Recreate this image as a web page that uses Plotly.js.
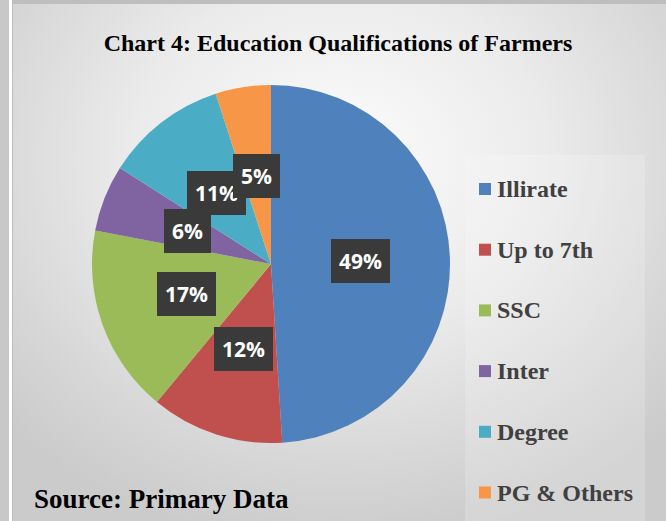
<!DOCTYPE html>
<html>
<head>
<meta charset="utf-8">
<script src="https://cdn.plot.ly/plotly-3.0.1.min.js"></script>
<style>
  html, body { margin: 0; padding: 0; }
  #wrap { position: relative; width: 666px; height: 521px; background: #c8c8c8; overflow: hidden; }
  #wline { position: absolute; left: 9px; top: 0; width: 3px; height: 521px; background: #ffffff; }
  #bg { position: absolute; left: 12px; top: 4px; right: 0; bottom: 0;
        border-left: 1px solid #bdbdbd;
        background: radial-gradient(ellipse 70% 75% at 50% 30%, #fcfcfc 0%, #ebebeb 45%, #d6d6d6 80%, #cbcbcb 100%); }
  #topline { position: absolute; left: 12px; top: 0; right: 0; height: 4px; background: #bebebe; }
  #chart { position: absolute; left: 0; top: 0; width: 666px; height: 521px; }
</style>
</head>
<body>
<div id="wrap">
  <div id="wline"></div>
  <div id="topline"></div>
  <div id="bg"></div>
  <div id="chart"></div>
</div>
<script>
// ---- data ----
const categories = ["Illirate", "Up to 7th", "SSC", "Inter", "Degree", "PG & Others"];
const values = [49, 12, 17, 6, 11, 5];
const colors = ["#4F81BD", "#C0504D", "#9BBB59", "#8064A2", "#4BACC6", "#F79646"];
const titleText = "Chart 4: Education Qualifications of Farmers";
const sourceText = "Source: Primary Data";

// ---- layout geometry (pixels) ----
const W = 666, H = 521;
const cx = 271, cy = 264, R = 179;
const px = x => x / W;
const py = y => 1 - y / H;

const total = values.reduce((a, b) => a + b, 0);

const pie = {
  type: "pie",
  labels: categories,
  values: values,
  sort: false,
  direction: "clockwise",
  rotation: 0,
  marker: { colors: colors, line: { width: 0 } },
  textinfo: "none",
  hoverinfo: "label+percent",
  showlegend: false,
  domain: { x: [px(cx - R), px(cx + R)], y: [py(cy + R), py(cy - R)] }
};

const annotations = [];
const shapes = [];

// data labels (dark boxes) placed at the middle of each slice
let cum = 0;
values.forEach((v, i) => {
  const mid = (cum + v / 2) / total * 2 * Math.PI;
  cum += v;
  const lx = cx + Math.sin(mid) * R * 0.5;
  const ly = cy - Math.cos(mid) * R * 0.5;
  annotations.push({
    xref: "paper", yref: "paper", x: px(lx), y: py(ly),
    xanchor: "center", yanchor: "middle", showarrow: false,
    text: "<b>" + Math.round(v / total * 100) + "%</b>",
    font: { family: "Open Sans, Noto Sans, sans-serif", size: 21, color: "#ffffff" },
    bgcolor: "#3a3a3a", borderpad: 8, borderwidth: 0
  });
});

// legend (custom, spaced as in the reference)
const legX = 479, legY0 = 189, legGap = 60.7, sq = 12;
categories.forEach((c, i) => {
  const yy = legY0 + i * legGap;
  shapes.push({
    type: "rect", xref: "paper", yref: "paper",
    x0: px(legX), x1: px(legX + sq), y0: py(yy + sq / 2), y1: py(yy - sq / 2),
    fillcolor: colors[i], line: { width: 0 }
  });
  annotations.push({
    xref: "paper", yref: "paper", x: px(legX + sq + 4), y: py(yy),
    xanchor: "left", yanchor: "middle", showarrow: false,
    text: "<b>" + c + "</b>",
    font: { family: "Liberation Serif, Times New Roman, serif", size: 24, color: "#404040" }
  });
});

// legend area panel
shapes.unshift({
  type: "rect", xref: "paper", yref: "paper", layer: "below",
  x0: px(465), x1: px(645), y0: 0, y1: py(155),
  fillcolor: "rgba(255,255,255,0.18)", line: { width: 0 }
});

// source note
annotations.push({
  xref: "paper", yref: "paper", x: px(32), y: py(499),
  xanchor: "left", yanchor: "middle", showarrow: false,
  text: "<b>" + sourceText + "</b>",
  font: { family: "Liberation Serif, Times New Roman, serif", size: 27, color: "#000000" }
});

const layout = {
  width: W, height: H,
  margin: { l: 0, r: 0, t: 0, b: 0 },
  paper_bgcolor: "rgba(0,0,0,0)",
  plot_bgcolor: "rgba(0,0,0,0)",
  title: {
    text: "<b>" + titleText + "</b>",
    x: px(338), xanchor: "center", y: py(43), yanchor: "middle",
    font: { family: "Liberation Serif, Times New Roman, serif", size: 24, color: "#000000" }
  },
  showlegend: false,
  annotations: annotations,
  shapes: shapes
};

Plotly.newPlot("chart", [pie], layout, { displayModeBar: false, staticPlot: true });
</script>
</body>
</html>
